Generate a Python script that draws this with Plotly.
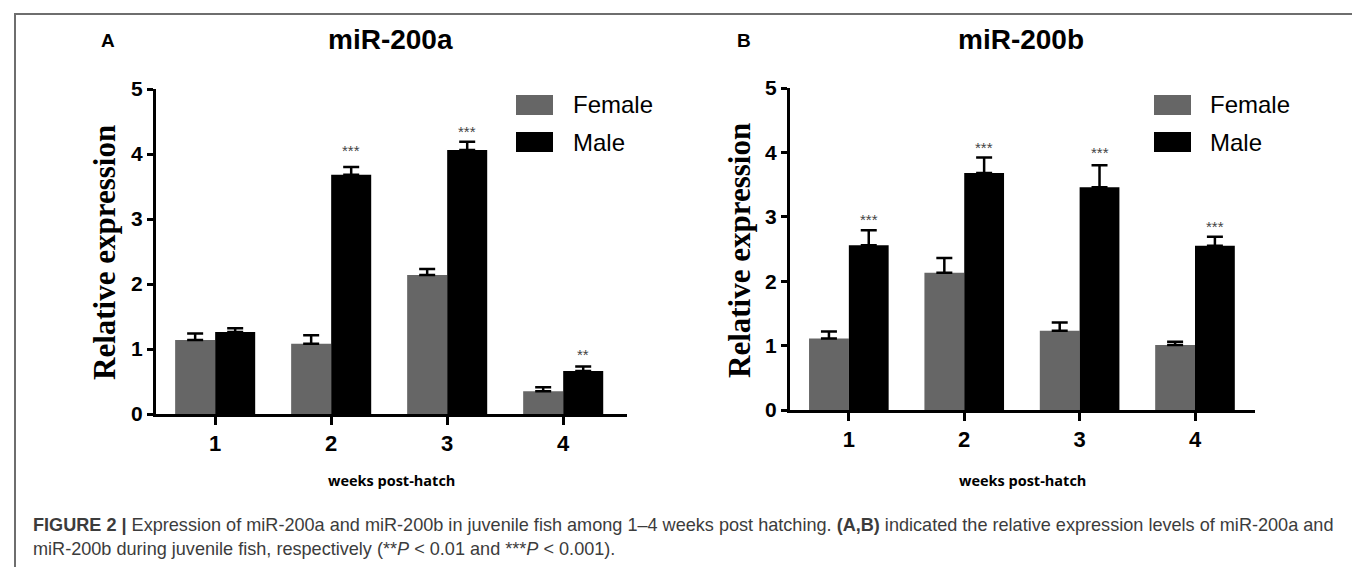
import plotly.graph_objects as go

# ---------------- data ----------------
weeks = [1, 2, 3, 4]
week_labels = ["1", "2", "3", "4"]
y_ticks = [0, 1, 2, 3, 4, 5]

a_female = [1.14, 1.08, 2.14, 0.35]
a_female_err = [0.10, 0.13, 0.09, 0.06]
a_male = [1.26, 3.68, 4.06, 0.66]
a_male_err = [0.06, 0.12, 0.13, 0.07]
a_stars = ["", "***", "***", "**"]
a_star_y = [None, 4.10, 4.39, 0.96]

b_female = [1.11, 2.13, 1.23, 1.01]
b_female_err = [0.11, 0.23, 0.13, 0.05]
b_male = [2.56, 3.68, 3.46, 2.55]
b_male_err = [0.23, 0.24, 0.34, 0.14]
b_stars = ["***", "***", "***", "***"]
b_star_y = [3.00, 4.12, 4.05, 2.89]

series_names = ["Female", "Male"]
series_colors = ["#666666", "#000000"]

# ---------------- layout constants ----------------
W, H = 1360, 567
BARGAP = 0.31
SANS = "Liberation Sans, Arial, sans-serif"
SERIF = "Liberation Serif, Times New Roman, serif"


def px(x):
    return x / W


def py(y):
    return 1 - y / H


fig = go.Figure()

panels = [
    dict(xa="x", ya="y", fem=a_female, fe=a_female_err, mal=a_male, me=a_male_err,
         stars=a_stars, star_y=a_star_y),
    dict(xa="x2", ya="y2", fem=b_female, fe=b_female_err, mal=b_male, me=b_male_err,
         stars=b_stars, star_y=b_star_y),
]

for p in panels:
    for name, color, vals, errs in [
        (series_names[0], series_colors[0], p["fem"], p["fe"]),
        (series_names[1], series_colors[1], p["mal"], p["me"]),
    ]:
        fig.add_trace(go.Bar(
            x=weeks, y=vals, name=name, xaxis=p["xa"], yaxis=p["ya"],
            marker=dict(color=color, line=dict(width=0)),
            error_y=dict(type="data", symmetric=False, array=errs,
                         arrayminus=[0] * len(errs), color="black",
                         thickness=2.5, width=8),
            showlegend=False,
        ))

fig.update_layout(barmode="group", bargap=BARGAP, bargroupgap=0)

male_offset = (1 - BARGAP) / 4
annotations = []
for p in panels:
    for wk, s, sy in zip(weeks, p["stars"], p["star_y"]):
        if s:
            annotations.append(dict(
                x=wk + male_offset, y=sy, xref=p["xa"], yref=p["ya"],
                text=s, showarrow=False, xanchor="center", yanchor="middle",
                yshift=-3,
                font=dict(family=SANS, size=15, color="#444444")))

axis_common = dict(
    showline=True, linecolor="black", linewidth=3, showgrid=False,
    zeroline=False, ticks="outside", tickcolor="black", tickwidth=2.5,
    automargin=False,
)

fig.update_layout(
    xaxis=dict(domain=[px(148), px(619)], range=[0.49, 4.55], anchor="y",
               tickvals=weeks, ticktext=week_labels, ticklen=8,
               tickfont=dict(family=SANS, size=22, color="black", weight="bold"),
               **axis_common),
    yaxis=dict(domain=[py(406), py(81)], range=[0, 5], anchor="x",
               tickvals=y_ticks, ticklen=6,
               tickfont=dict(family=SANS, size=21, color="black", weight="bold"),
               **axis_common),
    xaxis2=dict(domain=[px(782), px(1247)], range=[0.49, 4.52], anchor="y2",
                tickvals=weeks, ticktext=week_labels, ticklen=8,
                tickfont=dict(family=SANS, size=22, color="black", weight="bold"),
                **axis_common),
    yaxis2=dict(domain=[py(402), py(80)], range=[0, 5], anchor="x2",
                tickvals=y_ticks, ticklen=6,
                tickfont=dict(family=SANS, size=21, color="black", weight="bold"),
                **axis_common),
)


def paper_text(x, y, text, font, xanchor="center", **kw):
    return dict(x=px(x), y=py(y), xref="paper", yref="paper", text=text,
                showarrow=False, xanchor=xanchor, yanchor="middle", font=font, **kw)


# panel letters, titles, axis titles
for letter, lx, title, tx, ytx, yty, xtx in [
    ("A", 100, "miR-200a", 382, 97, 245, 383),
    ("B", 736, "miR-200b", 1013, 731, 243, 1014),
]:
    annotations.append(paper_text(lx, 32, "<b>" + letter + "</b>",
                                  dict(family=SANS, size=19, color="black")))
    annotations.append(paper_text(tx, 31, "<b>" + title + "</b>",
                                  dict(family=SANS, size=28, color="black")))
    annotations.append(paper_text(ytx, yty, "<b>Relative expression</b>",
                                  dict(family=SERIF, size=31, color="black"),
                                  textangle=-90))
    annotations.append(paper_text(xtx, 472, "<b>weeks post-hatch</b>",
                                  dict(family="Open Sans, sans-serif", size=14.5,
                                       color="black")))

# legends (drawn)
shapes = []
for sx, tx in [(508, 563), (1146, 1200)]:
    for i, (name, color) in enumerate(zip(series_names, series_colors)):
        y0 = 87 + i * 37
        shapes.append(dict(type="rect", xref="paper", yref="paper",
                           x0=px(sx), x1=px(sx + 37), y0=py(y0), y1=py(y0 + 20),
                           fillcolor=color, line=dict(width=0)))
        annotations.append(paper_text(tx, y0 + 10, name,
                                      dict(family=SANS, size=24, color="black"),
                                      xanchor="left"))

# frame
shapes.append(dict(type="rect", xref="paper", yref="paper",
                   x0=px(7), x1=px(1355), y0=-0.05, y1=py(6),
                   line=dict(color="#6e6e6e", width=2)))

# caption
cap_color = "#3c3c3c"
cap_font = dict(family=SANS, size=18.1, color=cap_color)
annotations.append(paper_text(
    23, 517,
    "<b>FIGURE 2 |</b> Expression of miR-200a and miR-200b in juvenile fish among "
    "1–4 weeks post hatching. <b>(A,B)</b> indicated the relative expression "
    "levels of miR-200a and", cap_font, xanchor="left"))
annotations.append(paper_text(
    23, 541,
    "miR-200b during juvenile fish, respectively (**<i>P</i> &lt; 0.01 and "
    "***<i>P</i> &lt; 0.001).", cap_font, xanchor="left"))

fig.update_layout(
    width=W, height=H, margin=dict(l=0, r=0, t=0, b=0),
    paper_bgcolor="white", plot_bgcolor="white",
    annotations=annotations, shapes=shapes,
)

fig.write_html("out.html")
